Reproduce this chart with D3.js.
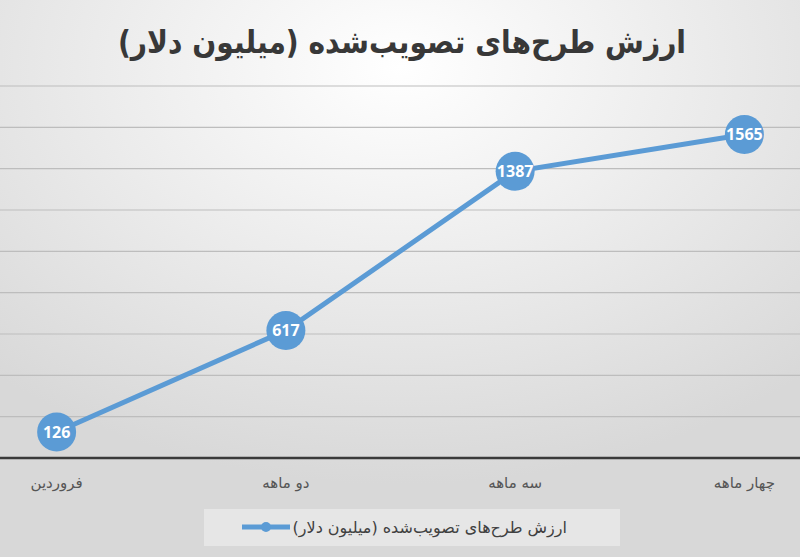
<!DOCTYPE html>
<html>
<head>
<meta charset="utf-8">
<script src="https://cdn.jsdelivr.net/npm/d3@7"></script>
<style>
	body { margin: 0; padding: 0; }
	svg { display: block; }
</style>
</head>
<body>
<div id="chart"></div>
<script>
var titleText = "ارزش طرح‌های تصویب‌شده (میلیون دلار)";
var seriesName = "ارزش طرح‌های تصویب‌شده (میلیون دلار)";
var categories = ["فروردین", "دو ماهه", "سه ماهه", "چهار ماهه"];
var values = [126, 617, 1387, 1565];
var yTicks = [0, 200, 400, 600, 800, 1000, 1200, 1400, 1600, 1800];

var W = 800, H = 557;
var blue = "#5b9bd5";

var svg = d3.select("#chart")
	.append("svg")
	.attr("width", W)
	.attr("height", H);

// background
var defs = svg.append("defs");
var grad = defs.append("radialGradient")
	.attr("id", "bg")
	.attr("cx", "50%").attr("cy", "12%")
	.attr("r", "75%");
grad.append("stop").attr("offset", "0%").attr("stop-color", "#ffffff");
grad.append("stop").attr("offset", "100%").attr("stop-color", "#d8d8d8");
svg.append("rect")
	.attr("width", W).attr("height", H)
	.attr("fill", "url(#bg)");

// scales (plot area is wider than the picture, it was cropped)
var x = d3.scaleBand()
	.domain(categories)
	.range([-58, 859]);
var y = d3.scaleLinear()
	.domain([0, 1800])
	.range([458, 86]);

// grid
svg.append("g")
	.selectAll("line")
	.data(yTicks.slice(1))
	.enter()
	.append("line")
	.attr("x1", 0).attr("x2", W)
	.attr("y1", function(d) { return y(d); })
	.attr("y2", function(d) { return y(d); })
	.attr("stroke", "#bdbdbd")
	.attr("stroke-width", 1.2);

// x axis
var xAxis = svg.append("g")
	.attr("transform", "translate(0," + y(0) + ")")
	.call(d3.axisBottom(x).tickSize(0).tickPadding(19));
xAxis.select(".domain").remove();
xAxis.append("line")
	.attr("x1", 0).attr("x2", W)
	.attr("stroke", "#3a3a3a")
	.attr("stroke-width", 2.5);
xAxis.selectAll("text")
	.attr("font-family", "DejaVu Sans")
	.attr("font-size", 15)
	.attr("fill", "#555")
	.attr("direction", "rtl");

// line
var cx = function(d, i) { return x(categories[i]) + x.bandwidth() / 2; };
var line = d3.line()
	.x(cx)
	.y(function(d) { return y(d); });
svg.append("path")
	.datum(values)
	.attr("d", line)
	.attr("fill", "none")
	.attr("stroke", blue)
	.attr("stroke-width", 5);

var pts = svg.append("g")
	.selectAll("g")
	.data(values)
	.enter()
	.append("g")
	.attr("transform", function(d, i) { return "translate(" + cx(d, i) + "," + y(d) + ")"; });
pts.append("circle")
	.attr("r", 19.5)
	.attr("fill", blue);
pts.append("text")
	.attr("text-anchor", "middle")
	.attr("dy", "0.36em")
	.attr("font-family", "Open Sans, Liberation Sans")
	.attr("font-weight", "bold")
	.attr("font-size", 16)
	.attr("fill", "#fff")
	.text(function(d) { return d; });

// title, a bit condensed like the original font
svg.append("text")
	.attr("transform", "translate(402,53) scale(0.88,1)")
	.attr("text-anchor", "middle")
	.attr("direction", "rtl")
	.attr("font-family", "DejaVu Sans")
	.attr("font-weight", "bold")
	.attr("font-size", 32)
	.attr("fill", "#383838")
	.text(titleText);

// legend
var lg = svg.append("g");
lg.append("rect")
	.attr("x", 204).attr("y", 509)
	.attr("width", 416).attr("height", 37)
	.attr("fill", "#e6e6e6");
lg.append("line")
	.attr("x1", 242).attr("x2", 290)
	.attr("y1", 527).attr("y2", 527)
	.attr("stroke", blue)
	.attr("stroke-width", 5);
lg.append("circle")
	.attr("cx", 266).attr("cy", 527)
	.attr("r", 5)
	.attr("fill", blue);
lg.append("text")
	.attr("x", 567)
	.attr("y", 533)
	.attr("text-anchor", "start")
	.attr("direction", "rtl")
	.attr("font-family", "DejaVu Sans")
	.attr("font-size", 16)
	.attr("fill", "#404040")
	.text(seriesName);
</script>
</body>
</html>
